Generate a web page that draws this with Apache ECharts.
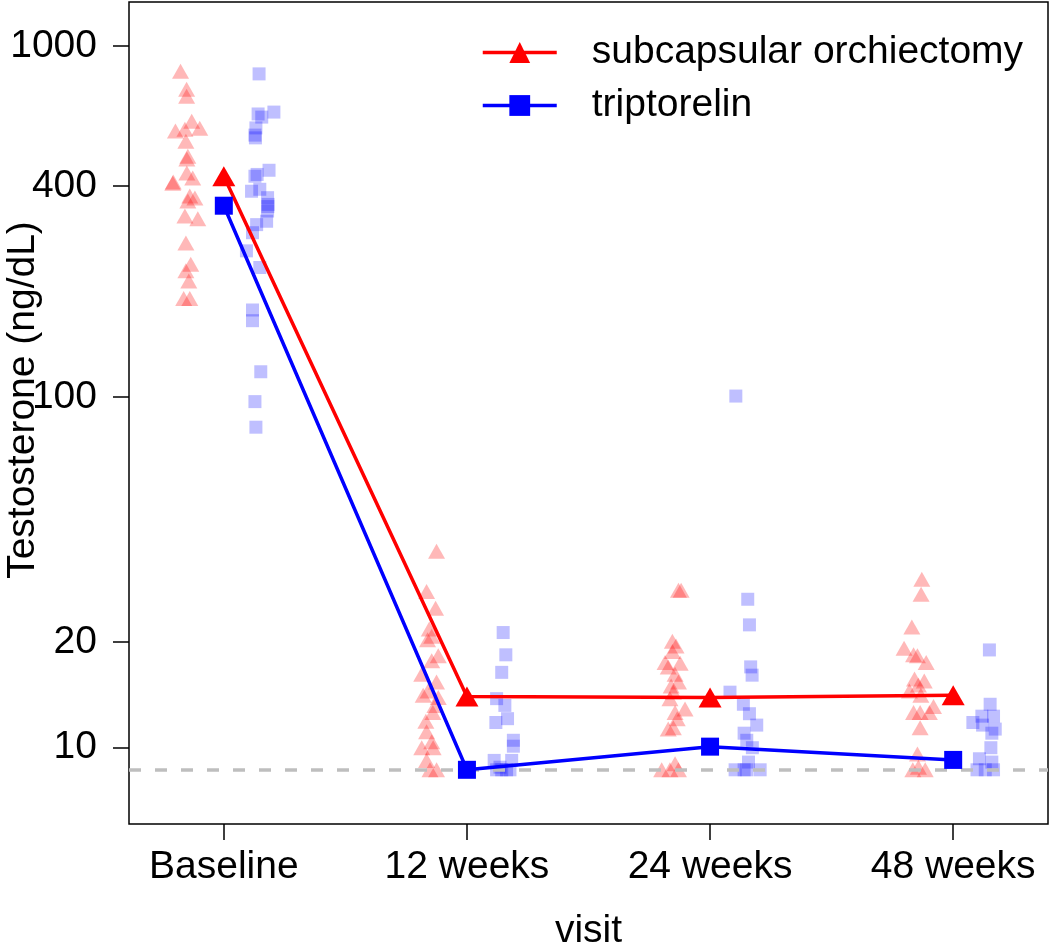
<!DOCTYPE html>
<html>
<head>
<meta charset="utf-8">
<script src="https://cdn.jsdelivr.net/npm/echarts@6/dist/echarts.min.js"></script>
<style>html,body{margin:0;padding:0;background:#fff;}#chart{width:1050px;height:947px;}</style>
</head>
<body>
<div id="chart"></div>
<script>
const visits = ['Baseline', '12 weeks', '24 weeks', '48 weeks'];
const yTickLabels = [10, 20, 100, 400, 1000];
const lloq = 8.65;
const orchMean = [426, 14.0, 13.9, 14.1];
const tripMean = [351, 8.65, 10.07, 9.23];

// individual values: [jittered visit position, testosterone ng/dL]
const orchBaseline = [[0.822,849],[0.847,754],[0.847,720],[0.868,611],[0.901,584],[0.801,573],[0.840,580],[0.844,536],[0.852,486],[0.848,477],[0.848,435],[0.872,421],[0.790,407],[0.792,410],[0.860,374],[0.881,369],[0.852,362],[0.840,328],[0.893,322],[0.844,275],[0.864,239],[0.844,229],[0.856,214],[0.835,191],[0.860,191]];
const tripBaseline = [[1.145,834],[1.141,641],[1.206,649],[1.156,628],[1.132,585],[1.130,548],[1.128,558],[1.186,443],[1.137,431],[1.128,426],[1.114,386],[1.148,391],[1.180,370],[1.182,354],[1.181,349],[1.180,339],[1.176,317],[1.135,310],[1.118,294],[1.093,261],[1.148,234],[1.118,177],[1.118,165],[1.152,118],[1.128,97],[1.132,82]];
const orchWeek12 = [[1.875,36.3],[1.834,27.9],[1.871,25.0],[1.845,21.8],[1.855,20.8],[1.838,20.3],[1.882,18.3],[1.855,17.7],[1.814,16.2],[1.875,15.4],[1.840,14.5],[1.820,14.1],[1.882,13.9],[1.868,13.2],[1.860,12.6],[1.831,11.9],[1.834,11.1],[1.855,10.4],[1.814,10.0],[1.861,10.0],[1.834,9.2],[1.848,8.65],[1.875,8.65]];
const tripWeek12 = [[2.149,21.3],[2.160,18.4],[2.143,16.4],[2.122,13.8],[2.156,13.2],[2.119,11.8],[2.167,12.1],[2.191,10.5],[2.191,10.1],[2.112,9.2],[2.184,9.2],[2.122,8.65],[2.143,8.65],[2.163,8.65],[2.136,8.8],[2.177,8.65]];
const orchWeek24 = [[2.870,28.1],[2.881,28.1],[2.845,20.1],[2.860,19.5],[2.845,18.8],[2.815,17.5],[2.877,17.4],[2.828,17.0],[2.856,16.2],[2.870,15.4],[2.840,15.0],[2.849,14.4],[2.835,13.8],[2.897,12.9],[2.856,12.6],[2.865,12.1],[2.828,11.3],[2.849,11.4],[2.801,8.65],[2.835,8.65],[2.870,8.65],[2.856,9.0]];
const tripWeek24 = [[3.106,100.6],[3.155,26.5],[3.162,22.4],[3.167,17.0],[3.173,16.1],[3.082,14.4],[3.137,13.3],[3.162,12.5],[3.192,11.6],[3.140,11.0],[3.151,10.5],[3.174,10.0],[3.158,9.1],[3.103,8.65],[3.151,8.65],[3.206,8.65],[3.140,8.65]];
const orchWeek48 = [[3.871,30.2],[3.868,27.4],[3.830,22.1],[3.798,19.2],[3.837,18.4],[3.853,18.3],[3.889,17.5],[3.841,15.7],[3.881,15.5],[3.857,15.1],[3.820,14.5],[3.867,14.1],[3.919,13.1],[3.837,12.6],[3.864,12.6],[3.902,12.6],[3.864,11.4],[3.853,9.6],[3.834,8.65],[3.885,8.65],[3.857,8.8]];
const tripWeek48 = [[4.149,19.0],[4.152,13.3],[4.166,12.3],[4.118,12.3],[4.081,11.8],[4.121,11.6],[4.173,11.3],[4.159,11.0],[4.155,10.0],[4.108,9.3],[4.159,9.1],[4.098,8.65],[4.132,8.65],[4.166,8.65]];

const FONT = 'Liberation Sans';
const RED = '#ff0000', BLUE = '#0000ff';
const positions = visits.map((v, i) => i + 1);

const chart = echarts.init(document.getElementById('chart'), null, {renderer: 'canvas'});
chart.setOption({
  animation: false,
  backgroundColor: '#fff',
  grid: {left: 129, right: 2, top: 2, bottom: 123, containLabel: false, outerBoundsMode: 'none',
    show: true, borderColor: '#000', borderWidth: 1.5, backgroundColor: 'transparent'},
  legend: {
    left: 481, top: 33, padding: 0, orient: 'vertical', itemWidth: 74, itemHeight: 26, itemGap: 14,
    data: ['subcapsular orchiectomy', 'triptorelin'],
    lineStyle: {width: 3.5},
    textStyle: {fontFamily: FONT, fontSize: 39, color: '#000', padding: [0, 0, 0, 30]}
  },
  xAxis: {
    type: 'value', min: 0.61, max: 4.39,
    name: 'visit', nameLocation: 'middle', nameGap: 88, nameMoveOverlap: false,
    nameTextStyle: {fontFamily: FONT, fontSize: 39, color: '#000'},
    axisLine: {show: false},
    splitLine: {show: false},
    axisTick: {show: true, length: 16, customValues: positions, lineStyle: {color: '#000', width: 1.5}},
    axisLabel: {customValues: positions, margin: 24, fontFamily: FONT, fontSize: 39, color: '#000',
      formatter: v => visits[Math.round(v) - 1]}
  },
  yAxis: {
    type: 'log', logBase: 10, min: 6.06, max: 1337,
    name: 'Testosterone (ng/dL)', nameLocation: 'middle', nameGap: 86, nameMoveOverlap: false,
    nameTextStyle: {fontFamily: FONT, fontSize: 39, color: '#000', padding: [0, 0, 0, 26]},
    axisLine: {show: false},
    splitLine: {show: false},
    minorTick: {show: false},
    axisTick: {show: true, length: 16, customValues: yTickLabels, lineStyle: {color: '#000', width: 1.5}},
    axisLabel: {customValues: yTickLabels, margin: 32, fontFamily: FONT, fontSize: 39, color: '#000',
      formatter: v => String(Math.round(v))}
  },
  series: [
    {type: 'scatter', name: 'orch-points', symbol: 'triangle', symbolSize: [17, 15], z: 2,
      itemStyle: {color: RED, opacity: 0.28},
      data: [].concat(orchBaseline, orchWeek12, orchWeek24, orchWeek48)},
    {type: 'scatter', name: 'trip-points', symbol: 'rect', symbolSize: 13, z: 2,
      itemStyle: {color: BLUE, opacity: 0.25},
      data: [].concat(tripBaseline, tripWeek12, tripWeek24, tripWeek48),
      markLine: {silent: true, symbol: ['none', 'none'], label: {show: false},
        lineStyle: {color: '#bebebe', width: 3.5, type: [12, 14], opacity: 1},
        data: [{yAxis: lloq}]}},
    {type: 'line', name: 'subcapsular orchiectomy', symbol: 'triangle', symbolSize: [23, 20], z: 5,
      lineStyle: {color: RED, width: 3.5}, itemStyle: {color: RED},
      data: orchMean.map((v, i) => [positions[i], v])},
    {type: 'line', name: 'triptorelin', symbol: 'rect', symbolSize: 18, z: 5,
      lineStyle: {color: BLUE, width: 3.5}, itemStyle: {color: BLUE},
      data: tripMean.map((v, i) => [positions[i], v])}
  ]
});
</script>
</body>
</html>
